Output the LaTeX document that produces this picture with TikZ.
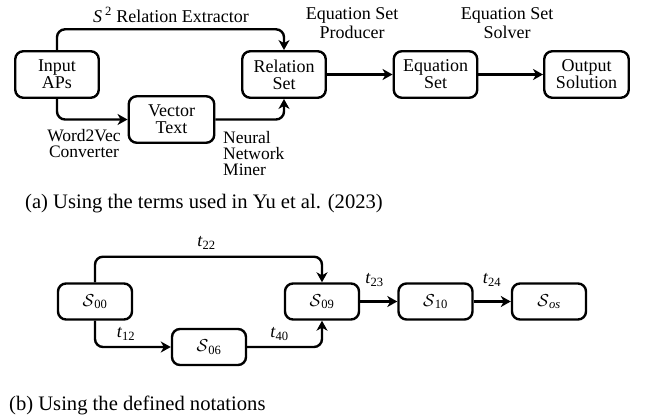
\documentclass[tikz,border=0pt]{standalone}
\usepackage{fontspec}
\setmainfont{Liberation Serif}
\usetikzlibrary{arrows.meta}
\begin{document}
\begin{tikzpicture}[x=1pt,y=-1pt,
  box/.style={draw, line width=2.4pt, rounded corners=8pt, minimum width=83.5pt, minimum height=46.5pt, align=center, inner sep=0pt, font=\fontsize{18}{17}\selectfont},
  sbox/.style={box, minimum width=74pt, minimum height=36pt},
  conn/.style={line width=2.4pt, rounded corners=8pt, -{Stealth[length=10pt,width=11pt,inset=3pt]}},
  lbl/.style={font=\fontsize{18}{19.5}\selectfont, align=center, inner sep=0pt},
  captext/.style={font=\fontsize{20.6}{24}\selectfont, inner sep=0pt, anchor=west}]
\useasboundingbox (0,0) rectangle (648,417);
% ---------- (a) ----------
\node[box] (in)  at (57,74.5)    {Input\\APs};
\node[box] (rel) at (284,74.5)   {Relation\\Set};
\node[box, minimum width=85.5pt] (vec) at (171.5,119.5) {Vector\\Text};
\node[box] (eq)  at (435.5,74.5) {Equation\\Set};
\node[box, minimum width=84.5pt] (out) at (586.5,74.5) {Output\\Solution};
\coordinate (ytopa) at (0,29.3);
\draw[conn] (in.north) -- (in.north |- ytopa) -- (rel.north |- ytopa) -- (rel.north);
\draw[conn] (in.south) -- (in.south |- vec.west) -- (vec.west);
\draw[conn] (vec.east) -- (rel.south |- vec.east) -- (rel.south);
\draw[conn] (rel) -- (eq);
\draw[conn] (eq) -- (out);
\node[lbl] (l1) at (171,15) {\textit{S}\,\textsuperscript{2} Relation Extractor};
\node[lbl] (l2) at (352,23) {Equation Set\\Producer};
\node[lbl] (l3) at (507,23) {Equation Set\\Solver};
\node[lbl, font=\fontsize{17.5}{16}\selectfont] (l4) at (84,144) {Word2Vec\\Converter};
\node[lbl, font=\fontsize{17.5}{16}\selectfont, align=left, anchor=west] (l5) at (223,154) {Neural\\Network\\Miner};
\node[captext] (capa) at (25,204) {(a) Using the terms used in Yu et al. (2023)};
% ---------- (b) ----------
\node[sbox] (s00) at (95,301.5)   {$\mathcal{S}$\textsubscript{00}};
\node[sbox] (s06) at (209,347)    {$\mathcal{S}$\textsubscript{06}};
\node[sbox] (s09) at (322,301.5)  {$\mathcal{S}$\textsubscript{09}};
\node[sbox] (s10) at (435.5,301.5){$\mathcal{S}$\textsubscript{10}};
\node[sbox] (sos) at (549,301.5)  {$\mathcal{S}$\textsubscript{\textit{os}}};
\coordinate (ytopb) at (0,256.7);
\draw[conn] (s00.north) -- (s00.north |- ytopb) -- (s09.north |- ytopb) -- (s09.north);
\draw[conn] (s00.south) -- (s00.south |- s06.west) -- (s06.west);
\draw[conn] (s06.east) -- (s09.south |- s06.east) -- (s09.south);
\draw[conn] (s09) -- (s10);
\draw[conn] (s10) -- (sos);
\node[lbl] (t22) at (206.5,243) {\textit{t}\textsubscript{22}};
\node[lbl] (t12) at (126,334)   {\textit{t}\textsubscript{12}};
\node[lbl] (t40) at (279.5,334) {\textit{t}\textsubscript{40}};
\node[lbl] (t23) at (374.5,280) {\textit{t}\textsubscript{23}};
\node[lbl] (t24) at (492,280)   {\textit{t}\textsubscript{24}};
\node[captext] (capb) at (9,405) {(b) Using the defined notations};
\end{tikzpicture}
\end{document}
